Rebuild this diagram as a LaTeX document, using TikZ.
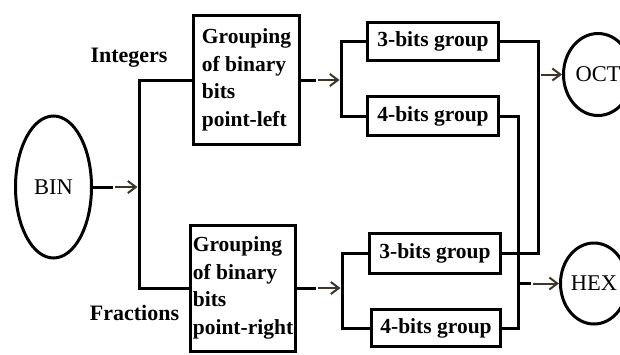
\documentclass[tikz,border=0pt]{standalone}
\usepackage{fontspec}
\setmainfont{Liberation Serif}
\usetikzlibrary{arrows.meta,shapes.geometric}

\definecolor{feedcol}{RGB}{62,52,42}

\begin{document}
\begin{tikzpicture}[x=1pt,y=-1pt,
  wire/.style={line width=3pt},
  feed/.style={line width=2pt, draw=feedcol,
    -{Straight Barb[length=8pt,width=12pt,line width=2pt]}},
  oval/.style={ellipse, draw, line width=3pt, inner sep=0pt,
    font=\fontsize{22.5}{26}\selectfont},
  groupbox/.style={draw, line width=3pt, align=left, anchor=center,
    font=\bfseries\fontsize{21.5}{27.5}\selectfont, inner sep=1pt},
  bitbox/.style={draw, line width=3pt, inner sep=0pt,
    font=\bfseries\fontsize{21.5}{26}\selectfont},
  lbl/.style={font=\bfseries\fontsize{22}{26}\selectfont, inner sep=0pt}]
\useasboundingbox (0,0) rectangle (620,354);
\clip (0,0) rectangle (620,354);

% source and targets
\node[oval, minimum width=76pt, minimum height=142pt] (bin) at (53.5,187) {BIN};
\node[oval, minimum width=69pt, minimum height=82pt] (oct) at (598,74.5) {OCT};
\node[oval, minimum width=67pt, minimum height=81pt] (hex) at (594,283.5) {HEX};

% grouping boxes
\node[groupbox, minimum width=106pt, minimum height=129pt] (gtop) at (246.5,80)
  {Grouping\\of binary\\bits\\point-left};
\node[groupbox, minimum width=105pt, minimum height=126pt] (gbot) at (243,288)
  {Grouping\\of binary\\bits\\point-right};

% bit groups
\node[bitbox, minimum width=131pt, minimum height=38pt] (b3a) at (433,41.5) {3-bits group};
\node[bitbox, minimum width=131pt, minimum height=39pt] (b4a) at (433,116) {4-bits group};
\node[bitbox, minimum width=131pt, minimum height=40pt] (b3b) at (435,253.5) {3-bits group};
\node[bitbox, minimum width=129pt, minimum height=37pt] (b4b) at (436,328) {4-bits group};

% labels
\node[lbl] (lint) at (129,58) {Integers};
\node[lbl] (lfrac) at (134.5,313) {Fractions};

% junction points
\coordinate (a1) at (113,187);
\coordinate (j1) at (139,187);
\coordinate (a2) at (316,80);
\coordinate (j2) at (341,80);
\coordinate (a3) at (316,288);
\coordinate (j3) at (342,288);
\coordinate (r1) at (538,74.5);
\coordinate (r2) at (518,283.5);
\coordinate (a6) at (531,283.5);

% split BIN into integer and fraction parts
\draw[wire] (bin.east) -- (a1);
\draw[feed, shorten <=2pt, shorten >=1.5pt] (a1) -- (j1);
\draw[wire] (gtop.west) -| (j1) |- (gbot.west);

% integer part
\draw[wire] (gtop.east) -- (a2);
\draw[feed, shorten <=2pt, shorten >=1.5pt] (a2) -- (j2);
\draw[wire] (b3a.west) -| (j2) |- (b4a.west);

% fraction part
\draw[wire] (gbot.east) -- (a3);
\draw[feed, shorten <=2pt, shorten >=1.5pt] (a3) -- (j3);
\draw[wire] (b3b.west) -| (j3) |- (b4b.west);

% 3-bit groups to OCT
\draw[wire] (b3a.east) -| (r1) |- (b3b.east);
\draw[feed, shorten <=3pt] (r1) -- (oct.west);

% 4-bit groups to HEX
\draw[wire] (b4a.east) -| (r2) |- (b4b.east);
\draw[wire] (r2) -- (a6);
\draw[feed, shorten <=2pt] (a6) -- (hex.west);
\end{tikzpicture}
\end{document}
